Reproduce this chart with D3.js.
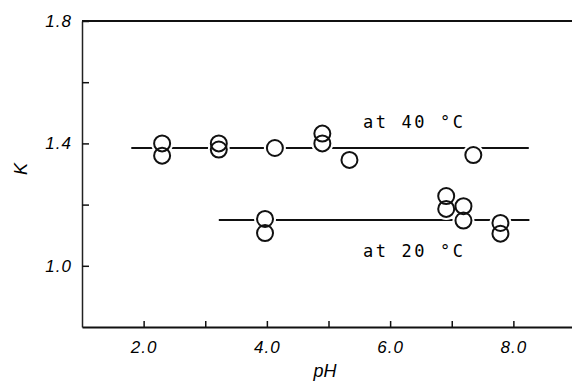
<!DOCTYPE html>
<html>
<head>
<meta charset="utf-8">
<script src="https://cdn.jsdelivr.net/npm/d3@7"></script>
<style>
  body { margin: 0; background: #fff; }
  svg { display: block; }
</style>
</head>
<body>
<div id="chart"></div>
<script>
// data
const ph40 = [2.3, 2.3, 3.22, 3.22, 4.13, 4.9, 4.9, 5.34, 7.35];
const k40 = [1.40, 1.36, 1.40, 1.38, 1.385, 1.432, 1.40, 1.346, 1.362];
const ph20 = [3.97, 3.97, 6.91, 6.91, 7.19, 7.19, 7.79, 7.79];
const k20 = [1.153, 1.107, 1.228, 1.186, 1.195, 1.148, 1.140, 1.105];
// fitted horizontal lines: [pH start, pH end], K level
const fitRange40 = [1.8, 8.25];
const fitK40 = 1.385;
const fitRange20 = [3.22, 8.26];
const fitK20 = 1.15;
const xTicks = [2, 3, 4, 5, 6, 7, 8];
const xLabels = [2, 4, 6, 8];
const yTicks = [1.0, 1.2, 1.4, 1.6, 1.8];
const yLabels = [1.0, 1.4, 1.8];

const width = 572, height = 383;
const svg = d3.select("#chart").append("svg")
    .attr("width", width)
    .attr("height", height);

const x = d3.scaleLinear().domain([1, 9]).range([82, 575]);
const y = d3.scaleLinear().domain([0.8, 1.8]).range([327, 21]);

const labelFont = "'Liberation Sans', Arial, sans-serif";

// top frame line
svg.append("line")
    .attr("x1", x(1)).attr("x2", width)
    .attr("y1", y(1.8)).attr("y2", y(1.8))
    .attr("stroke", "#111").attr("stroke-width", 2);

// left axis
const yAxis = svg.append("g")
    .attr("transform", `translate(${x(1)},0)`)
    .call(d3.axisLeft(y).tickValues(yTicks).tickSize(-7).tickSizeOuter(0)
        .tickFormat(d => yLabels.some(v => Math.abs(v - d) < 1e-6) ? d3.format(".1f")(d) : ""));
yAxis.select(".domain").attr("stroke", "#222").attr("stroke-width", 1.5);
yAxis.selectAll(".tick line").attr("stroke", "#111").attr("stroke-width", 1.5);
yAxis.selectAll(".tick text")
    .attr("x", -10)
    .attr("font-family", labelFont)
    .attr("font-style", "italic")
    .attr("font-size", 17)
    .attr("letter-spacing", 1)
    .attr("fill", "#000");

// bottom axis
const xAxis = svg.append("g")
    .attr("transform", `translate(0,${y(0.8)})`)
    .call(d3.axisBottom(x).tickValues(xTicks).tickSize(-6).tickSizeOuter(0)
        .tickFormat(d => xLabels.includes(d) ? d3.format(".1f")(d) : ""));
xAxis.select(".domain").attr("stroke", "#111").attr("stroke-width", 2);
xAxis.selectAll(".tick line").attr("stroke", "#111").attr("stroke-width", 1.5);
xAxis.selectAll(".tick text")
    .attr("y", 14)
    .attr("font-family", labelFont)
    .attr("font-style", "italic")
    .attr("font-size", 17)
    .attr("letter-spacing", 1)
    .attr("fill", "#000");

// axis titles
svg.append("text")
    .attr("x", 325).attr("y", 377)
    .attr("text-anchor", "middle")
    .attr("font-family", labelFont)
    .attr("font-style", "italic")
    .attr("font-size", 18)
    .attr("fill", "#000")
    .text("pH");

svg.append("text")
    .attr("transform", "translate(27,169) rotate(-90)")
    .attr("text-anchor", "middle")
    .attr("font-family", labelFont)
    .attr("font-style", "italic")
    .attr("font-size", 18)
    .attr("fill", "#000")
    .text("K");

// fitted lines
const fits = [[fitRange40, fitK40], [fitRange20, fitK20]];
svg.selectAll(".fit")
    .data(fits)
    .enter()
    .append("line")
    .attr("class", "fit")
    .attr("x1", d => x(d[0][0]))
    .attr("x2", d => x(d[0][1]))
    .attr("y1", d => y(d[1]))
    .attr("y2", d => y(d[1]))
    .attr("stroke", "#111")
    .attr("stroke-width", 2);

const points = ph40.map((p, i) => ({ ph: p, k: k40[i] }))
    .concat(ph20.map((p, i) => ({ ph: p, k: k20[i] })));

// white halo so the lines break around the circles
svg.selectAll(".halo")
    .data(points)
    .enter()
    .append("circle")
    .attr("class", "halo")
    .attr("cx", d => x(d.ph))
    .attr("cy", d => y(d.k))
    .attr("r", 11)
    .attr("fill", "#fff");

svg.selectAll(".pt")
    .data(points)
    .enter()
    .append("circle")
    .attr("class", "pt")
    .attr("cx", d => x(d.ph))
    .attr("cy", d => y(d.k))
    .attr("r", 8)
    .attr("fill", "none")
    .attr("stroke", "#111")
    .attr("stroke-width", 2);

// series labels
const notes = [["at 40 °C", 5.56, 1.45], ["at 20 °C", 5.56, 1.029]];
svg.selectAll(".note")
    .data(notes)
    .enter()
    .append("text")
    .attr("class", "note")
    .attr("x", d => x(d[1]))
    .attr("y", d => y(d[2]))
    .attr("font-family", "'DejaVu Sans Mono', monospace")
    .attr("font-size", 17)
    .attr("textLength", 100)
    .attr("lengthAdjust", "spacing")
    .attr("fill", "#000")
    .text(d => d[0]);
</script>
</body>
</html>
